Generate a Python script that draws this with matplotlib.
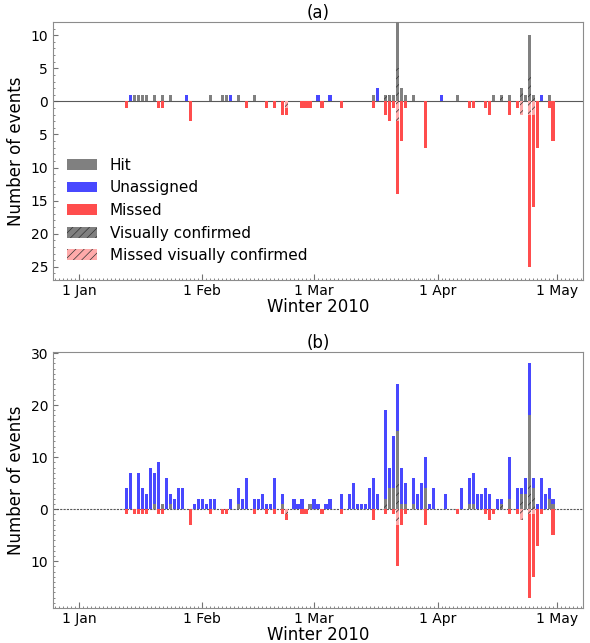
import numpy as np
import pandas as pd
import matplotlib
matplotlib.use("Agg")
import matplotlib.pyplot as plt
import matplotlib.dates as mdates
from matplotlib.patches import Patch
from matplotlib.ticker import MultipleLocator, FuncFormatter


# ── Data: event counts per day, day = days since 1 Jan 2010 ──────────────────
# Panel (a)
A_HIT_DAYS = [14, 15, 16, 17, 19, 21, 23, 33, 36, 37, 40, 44, 74, 79, 80, 81, 82, 84,
              95, 104, 108, 112, 113, 118]
A_HIT = [1, 1, 1, 1, 1, 1, 1, 1, 1, 1, 1, 1, 1, 1, 10, 2, 1, 1,
         1, 1, 1, 1, 6, 1]
A_VC_DAYS = [77, 78, 80, 106, 111, 113, 114]
A_VC = [1, 1, 5, 1, 2, 4, 1]
A_UNASSIGNED_DAYS = [13, 27, 38, 60, 63, 75, 91, 116]
A_UNASSIGNED = [1, 1, 1, 1, 1, 2, 1, 1]
A_MISSED_DAYS = [12, 20, 21, 28, 42, 47, 49, 51, 52, 56, 57, 58, 61, 66, 74, 77, 78, 79,
                 80, 81, 82, 87, 98, 99, 102, 103, 108, 110, 113, 114, 115, 118, 119]
A_MISSED = [1, 1, 1, 3, 1, 1, 1, 2, 1, 1, 1, 1, 1, 1, 1, 2, 3, 1,
            11, 6, 1, 7, 1, 1, 1, 2, 2, 1, 23, 14, 7, 1, 6]
A_MISSED_VC_DAYS = [52, 80, 111, 113, 114]
A_MISSED_VC = [1, 3, 2, 2, 2]

# Panel (b)
B_HIT_DAYS = [19, 21, 23, 40, 51, 58, 77, 78, 79, 80, 81, 82, 84, 87, 98, 99, 108, 111,
              112, 113, 114, 118, 119]
B_HIT = [1, 1, 1, 1, 1, 1, 1, 3, 4, 10, 1, 1, 1, 4, 1, 1, 2, 1,
         3, 13, 1, 2, 1]
B_VC_DAYS = [77, 78, 80, 106, 111, 113, 114]
B_VC = [1, 1, 5, 1, 2, 5, 3]
B_UNASSIGNED_DAYS = [12, 13, 15, 16, 17, 18, 19, 20, 22, 23, 24, 25, 26, 29, 30, 31, 32,
                     33, 34, 38, 40, 41, 42, 44, 45, 46, 47, 48, 49, 51, 54, 55, 56, 59,
                     60, 62, 63, 66, 68, 69, 70, 71, 72, 73, 74, 75, 77, 78, 79, 80, 81,
                     82, 84, 85, 86, 87, 88, 89, 92, 96, 98, 99, 100, 101, 102, 103, 105,
                     106, 108, 110, 111, 112, 113, 114, 115, 116, 117, 118, 119]
B_UNASSIGNED = [4, 7, 7, 4, 3, 8, 6, 9, 6, 2, 2, 4, 4, 1, 2, 2, 1,
                2, 2, 2, 3, 2, 6, 2, 2, 3, 1, 1, 6, 2, 2, 1, 2, 2,
                1, 1, 2, 3, 3, 5, 1, 1, 1, 4, 6, 3, 17, 4, 10, 9, 7,
                4, 5, 3, 5, 6, 1, 4, 3, 4, 5, 6, 3, 3, 4, 3, 2,
                1, 8, 4, 1, 3, 10, 2, 1, 6, 3, 2, 1]
B_MISSED_DAYS = [12, 14, 15, 16, 17, 20, 21, 28, 33, 36, 37, 44, 47, 49, 51, 52, 56, 57,
                 61, 66, 74, 77, 79, 80, 81, 82, 87, 95, 102, 103, 104, 108, 110, 113,
                 114, 115, 116, 119]
B_MISSED = [1, 1, 1, 1, 1, 1, 1, 3, 1, 1, 1, 1, 1, 1, 1, 1, 1, 1,
            1, 1, 2, 1, 1, 8, 3, 1, 3, 1, 1, 2, 1, 1, 1, 16,
            12, 7, 1, 5]
B_MISSED_VC_DAYS = [52, 80, 111, 113, 114]
B_MISSED_VC = [1, 3, 2, 1, 1]

START = pd.Timestamp("2010-01-01")
DAYS = np.arange(0, 121)

# ── Styling ──────────────────────────────────────────────────────────────────
C_HIT = "#808080"
C_UNASSIGNED = "#4848ff"
C_MISSED = "#ff4d4d"
C_MISSED_VC = "#ffaaaa"
C_HATCH = "#333333"
HATCH = "////"
plt.rcParams["hatch.linewidth"] = 0.5
plt.rcParams["font.family"] = ["DejaVu Sans"]


def daily(days, counts):
    s = pd.Series(0.0, index=DAYS)
    s.loc[days] = counts
    return s.values


def draw_panel(ax, hit, vc, unassigned, missed, missed_vc, ylim, yticks, title,
               zero_style):
    dates = START + pd.to_timedelta(DAYS, unit="D")
    w = 0.8
    ax.bar(dates, vc, w, color=C_HIT, edgecolor=C_HATCH, linewidth=0, hatch=HATCH, zorder=3)
    ax.bar(dates, hit, w, bottom=vc, color=C_HIT, linewidth=0, zorder=3)
    ax.bar(dates, unassigned, w, bottom=vc + hit, color=C_UNASSIGNED, linewidth=0, zorder=3)
    ax.bar(dates, -missed_vc, w, color=C_MISSED_VC, edgecolor=C_HATCH, linewidth=0,
           hatch=HATCH, zorder=3)
    ax.bar(dates, -missed, w, bottom=-missed_vc, color=C_MISSED, linewidth=0, zorder=3)

    ax.axhline(0, color="0.35", linewidth=0.8, linestyle=zero_style, zorder=2)

    ax.set_xlim(START - pd.Timedelta(days=6.5), START + pd.Timedelta(days=126.5))
    ax.set_ylim(*ylim)
    ax.set_yticks(yticks)
    ax.yaxis.set_major_formatter(FuncFormatter(lambda v, p: f"{abs(v):g}"))
    ax.yaxis.set_minor_locator(MultipleLocator(1))

    ax.xaxis.set_major_locator(mdates.MonthLocator())
    ax.xaxis.set_major_formatter(mdates.DateFormatter("%-d %b"))
    ax.xaxis.set_minor_locator(mdates.DayLocator())

    ax.tick_params(which="both", direction="in", top=False, right=False,
                   colors="0.45", labelcolor="black", labelsize=10)
    ax.tick_params(axis="x", which="major", length=4, pad=3)
    ax.tick_params(which="minor", length=1.5)
    for spine in ax.spines.values():
        spine.set_color("0.55")
        spine.set_linewidth(0.8)

    ax.set_title(title, fontsize=12, pad=3)
    ax.set_xlabel("Winter 2010", fontsize=12, labelpad=0)
    ax.set_ylabel("Number of events", fontsize=12)


fig = plt.figure(figsize=(5.9, 6.43), dpi=100)
fig.patch.set_facecolor("white")
ax_a = fig.add_axes([0.0898, 0.5645, 0.8983, 0.4013])
ax_b = fig.add_axes([0.0898, 0.0544, 0.8983, 0.3982])

draw_panel(ax_a,
           daily(A_HIT_DAYS, A_HIT), daily(A_VC_DAYS, A_VC),
           daily(A_UNASSIGNED_DAYS, A_UNASSIGNED),
           daily(A_MISSED_DAYS, A_MISSED), daily(A_MISSED_VC_DAYS, A_MISSED_VC),
           (-27, 12), [-25, -20, -15, -10, -5, 0, 5, 10], "(a)", "-")
draw_panel(ax_b,
           daily(B_HIT_DAYS, B_HIT), daily(B_VC_DAYS, B_VC),
           daily(B_UNASSIGNED_DAYS, B_UNASSIGNED),
           daily(B_MISSED_DAYS, B_MISSED), daily(B_MISSED_VC_DAYS, B_MISSED_VC),
           (-19, 30.2), [-10, 0, 10, 20, 30], "(b)", (0, (2, 1)))

handles = [
    Patch(facecolor=C_HIT, linewidth=0, label="Hit"),
    Patch(facecolor=C_UNASSIGNED, linewidth=0, label="Unassigned"),
    Patch(facecolor=C_MISSED, linewidth=0, label="Missed"),
    Patch(facecolor=C_HIT, edgecolor=C_HATCH, linewidth=0, hatch=HATCH,
          label="Visually confirmed"),
    Patch(facecolor=C_MISSED_VC, edgecolor=C_HATCH, linewidth=0, hatch=HATCH,
          label="Missed visually confirmed"),
]
ax_a.legend(handles=handles, loc="lower left", frameon=False, fontsize=11,
            bbox_to_anchor=(0.0, 0.012))

fig.savefig("out.png", dpi=100, facecolor="white")
